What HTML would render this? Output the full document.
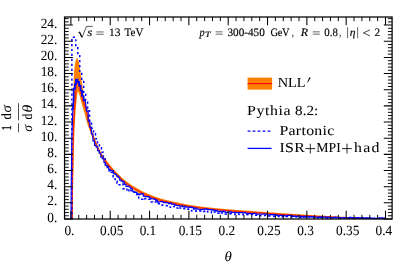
<!DOCTYPE html>
<html><head><meta charset="utf-8"><title>plot</title>
<style>html,body{margin:0;padding:0;background:#fff;}body{width:399px;height:269px;overflow:hidden;font-family:"Liberation Serif",serif;}svg{display:block;opacity:0.999;will-change:transform;stroke-width:0.04px;}text{text-rendering:geometricPrecision;stroke:#000;}</style></head>
<body>
<svg width="399" height="269" viewBox="0 0 399 269" font-family="'Liberation Serif', serif" fill="#000">
<clipPath id="cp"><rect x="64.55" y="17.00" width="327.55" height="202.30"/></clipPath>
<g clip-path="url(#cp)"><g transform="translate(0 0.3)">
<polygon points="71.60,219.50 71.60,219.00 71.60,218.50 71.61,218.00 71.61,217.50 71.61,217.00 71.61,216.50 71.61,216.00 71.62,215.50 71.62,215.00 71.62,214.50 71.62,214.00 71.63,213.50 71.63,213.00 71.63,212.50 71.63,212.00 71.64,211.50 71.64,211.00 71.64,210.50 71.64,210.00 71.65,209.50 71.65,209.00 71.65,208.50 71.65,208.00 71.66,207.50 71.66,207.00 71.66,206.50 71.66,206.00 71.67,205.50 71.67,205.00 71.67,204.50 71.68,204.00 71.68,203.50 71.68,203.00 71.68,202.50 71.69,202.00 71.69,201.50 71.69,201.00 71.70,200.50 71.70,200.00 71.70,199.50 71.71,199.00 71.71,198.50 71.71,198.00 71.72,197.50 71.72,197.00 71.72,196.50 71.73,196.00 71.73,195.50 71.73,195.00 71.74,194.50 71.74,194.00 71.74,193.50 71.75,193.00 71.75,192.50 71.75,192.00 71.76,191.50 71.76,191.00 71.76,190.50 71.77,190.00 71.77,189.50 71.78,189.00 71.78,188.50 71.78,188.00 71.79,187.50 71.79,187.00 71.80,186.50 71.80,186.00 71.80,185.50 71.81,185.00 71.81,184.50 71.82,184.00 71.82,183.50 71.82,183.00 71.83,182.50 71.83,182.00 71.84,181.50 71.84,181.00 71.84,180.50 71.85,180.00 71.85,179.50 71.86,179.00 71.86,178.50 71.87,178.00 71.87,177.50 71.88,177.00 71.88,176.50 71.89,176.00 71.89,175.50 71.90,175.00 71.90,174.50 71.91,174.00 71.91,173.50 71.91,173.00 71.92,172.50 71.92,172.00 71.93,171.50 71.94,171.00 71.94,170.50 71.95,170.00 71.95,169.50 71.96,169.00 71.96,168.50 71.97,168.00 71.97,167.50 71.98,167.00 71.98,166.50 71.99,166.00 71.99,165.50 72.00,165.00 72.01,164.50 72.01,164.00 72.02,163.50 72.02,163.00 72.03,162.50 72.04,162.00 72.04,161.50 72.05,161.00 72.05,160.50 72.06,160.00 72.07,159.50 72.07,159.00 72.08,158.50 72.09,158.00 72.09,157.50 72.10,157.00 72.11,156.50 72.11,156.00 72.12,155.50 72.13,155.00 72.14,154.50 72.14,154.00 72.15,153.50 72.16,153.00 72.17,152.50 72.18,152.00 72.18,151.50 72.19,151.00 72.20,150.50 72.21,150.00 72.22,149.50 72.23,149.00 72.23,148.50 72.24,148.00 72.25,147.50 72.26,147.00 72.27,146.50 72.28,146.00 72.29,145.50 72.30,145.00 72.31,144.50 72.32,144.00 72.33,143.50 72.34,143.00 72.35,142.50 72.36,142.00 72.37,141.50 72.38,141.00 72.39,140.50 72.40,140.00 72.41,139.50 72.42,139.01 72.44,138.51 72.45,138.01 72.46,137.51 72.48,137.01 72.49,136.51 72.51,136.01 72.52,135.51 72.54,135.01 72.56,134.51 72.57,134.01 72.59,133.51 72.61,133.01 72.62,132.51 72.64,132.01 72.66,131.51 72.67,131.01 72.69,130.51 72.71,130.01 72.72,129.51 72.74,129.01 72.75,128.51 72.77,128.01 72.79,127.51 72.80,127.01 72.81,126.51 72.83,126.01 72.84,125.51 72.86,125.01 72.87,124.51 72.89,124.01 72.90,123.51 72.92,123.01 72.93,122.51 72.94,122.01 72.96,121.51 72.97,121.01 72.99,120.51 73.00,120.01 73.02,119.51 73.03,119.01 73.04,118.51 73.06,118.01 73.07,117.51 73.09,117.01 73.10,116.51 73.11,116.02 73.13,115.52 73.14,115.02 73.15,114.52 73.16,114.02 73.18,113.52 73.19,113.02 73.20,112.52 73.21,112.02 73.23,111.52 73.24,111.02 73.25,110.52 73.26,110.02 73.27,109.52 73.28,109.02 73.29,108.52 73.30,108.02 73.31,107.52 73.32,107.02 73.33,106.52 73.34,106.02 73.35,105.52 73.35,105.02 73.36,104.52 73.37,104.02 73.38,103.52 73.39,103.02 73.40,102.52 73.40,102.02 73.41,101.52 73.42,101.02 73.43,100.52 73.43,100.02 73.44,99.52 73.45,99.02 73.45,98.52 73.46,98.02 73.47,97.52 73.47,97.02 73.48,96.52 73.49,96.02 73.49,95.52 73.50,95.02 73.51,94.52 73.51,94.02 73.52,93.52 73.52,93.02 73.53,92.52 73.53,92.02 73.53,91.52 73.54,91.02 73.54,90.52 73.55,90.02 73.55,89.52 73.56,89.02 73.56,88.52 73.57,88.02 73.57,87.52 73.58,87.02 73.58,86.52 73.59,86.02 73.59,85.52 73.60,85.02 73.61,84.52 73.61,84.02 73.62,83.52 73.63,83.02 73.64,82.52 73.65,82.02 73.66,81.52 73.67,81.02 73.68,80.52 73.69,80.02 73.70,79.52 73.71,79.02 73.72,78.52 73.74,78.02 73.75,77.52 73.77,77.02 73.78,76.52 73.80,76.02 73.82,75.52 73.84,75.02 73.87,74.52 73.89,74.02 73.92,73.52 73.96,73.03 73.99,72.53 74.03,72.03 74.07,71.53 74.11,71.03 74.16,70.53 74.20,70.03 74.25,69.53 74.30,69.04 74.35,68.54 74.40,68.04 74.45,67.55 74.50,67.05 74.56,66.54 74.61,66.04 74.67,65.54 74.74,65.03 74.81,64.53 74.88,64.03 74.96,63.53 75.04,63.03 75.13,62.54 75.23,62.06 75.33,61.57 75.45,61.10 75.57,60.63 75.70,60.17 75.88,59.71 76.10,59.27 76.35,58.83 76.61,58.39 76.89,57.96 77.18,57.53 77.20,57.50 77.45,57.94 77.69,58.39 77.93,58.84 78.15,59.29 78.35,59.75 78.51,60.21 78.65,60.68 78.77,61.15 78.88,61.63 78.98,62.12 79.08,62.60 79.17,63.10 79.25,63.59 79.33,64.09 79.41,64.59 79.48,65.09 79.55,65.59 79.62,66.09 79.69,66.59 79.76,67.08 79.84,67.58 79.91,68.08 79.99,68.57 80.06,69.07 80.13,69.56 80.20,70.06 80.27,70.55 80.33,71.05 80.40,71.54 80.46,72.04 80.53,72.53 80.60,73.03 80.66,73.53 80.73,74.02 80.79,74.52 80.86,75.01 80.93,75.51 81.00,76.00 81.07,76.50 81.14,76.99 81.22,77.49 81.29,77.98 81.36,78.48 81.44,78.97 81.51,79.47 81.58,79.96 81.66,80.45 81.74,80.95 81.81,81.44 81.89,81.94 81.97,82.43 82.05,82.92 82.13,83.42 82.22,83.91 82.30,84.40 82.39,84.89 82.47,85.39 82.56,85.88 82.64,86.37 82.72,86.87 82.80,87.36 82.88,87.85 82.95,88.35 83.02,88.84 83.08,89.34 83.15,89.84 83.21,90.34 83.27,90.83 83.32,91.33 83.38,91.83 83.44,92.33 83.49,92.83 83.55,93.32 83.61,93.82 83.67,94.32 83.73,94.82 83.79,95.31 83.86,95.81 83.93,96.30 84.00,96.79 84.08,97.28 84.16,97.77 84.25,98.26 84.34,98.75 84.45,99.23 84.56,99.72 84.69,100.20 84.81,100.68 84.95,101.16 85.09,101.64 85.23,102.12 85.38,102.60 85.54,103.07 85.69,103.55 85.85,104.03 86.01,104.51 86.17,104.98 86.33,105.46 86.50,105.93 86.66,106.41 86.81,106.89 86.97,107.37 87.12,107.84 87.27,108.32 87.42,108.80 87.56,109.28 87.69,109.77 87.82,110.25 87.94,110.73 88.05,111.22 88.16,111.70 88.26,112.19 88.37,112.68 88.47,113.17 88.56,113.66 88.66,114.15 88.75,114.64 88.84,115.13 88.93,115.63 89.02,116.12 89.10,116.61 89.19,117.11 89.28,117.60 89.36,118.09 89.45,118.58 89.54,119.08 89.63,119.57 89.72,120.06 89.81,120.55 89.90,121.05 90.00,121.54 90.10,122.03 90.20,122.52 90.30,123.01 90.41,123.49 90.51,123.98 90.62,124.47 90.73,124.96 90.84,125.45 90.96,125.94 91.07,126.42 91.19,126.91 91.31,127.40 91.43,127.88 91.55,128.37 91.68,128.85 91.81,129.33 91.95,129.81 92.08,130.29 92.23,130.77 92.37,131.24 92.52,131.72 92.68,132.19 92.83,132.67 93.00,133.14 93.16,133.61 93.33,134.09 93.49,134.56 93.67,135.03 93.84,135.50 94.02,135.97 94.20,136.44 94.37,136.90 94.56,137.37 94.74,137.84 94.92,138.30 95.11,138.77 95.29,139.23 95.48,139.70 95.66,140.16 95.85,140.63 96.04,141.09 96.22,141.55 96.41,142.02 96.60,142.48 96.79,142.95 96.98,143.41 97.17,143.87 97.37,144.33 97.56,144.80 97.76,145.26 97.96,145.72 98.16,146.18 98.37,146.63 98.58,147.09 98.79,147.54 99.00,147.99 99.22,148.44 99.44,148.89 99.66,149.34 99.88,149.78 100.12,150.22 100.35,150.66 100.59,151.09 100.83,151.53 101.08,151.96 101.33,152.40 101.58,152.83 101.84,153.26 102.10,153.68 102.37,154.11 102.63,154.54 102.90,154.96 103.18,155.38 103.45,155.80 103.73,156.22 104.01,156.64 104.29,157.05 104.57,157.47 104.86,157.88 105.14,158.29 105.43,158.70 105.72,159.11 106.01,159.51 106.30,159.91 106.59,160.31 106.89,160.71 107.19,161.11 107.50,161.51 107.81,161.90 108.12,162.29 108.43,162.68 108.75,163.07 109.06,163.46 109.38,163.85 109.70,164.23 110.03,164.61 110.35,165.00 110.68,165.38 111.00,165.76 111.33,166.14 111.65,166.52 111.98,166.90 112.31,167.28 112.63,167.65 112.96,168.03 113.29,168.41 113.62,168.78 113.95,169.16 114.28,169.53 114.62,169.91 114.95,170.28 115.29,170.65 115.63,171.02 115.97,171.38 116.31,171.75 116.66,172.11 117.00,172.47 117.35,172.83 117.70,173.19 118.05,173.55 118.40,173.90 118.75,174.26 119.10,174.61 119.46,174.96 119.82,175.32 120.17,175.67 120.53,176.02 120.90,176.37 121.26,176.72 121.62,177.06 121.99,177.40 122.36,177.74 122.73,178.08 123.10,178.41 123.48,178.74 123.86,179.06 124.24,179.38 124.62,179.70 125.01,180.01 125.40,180.31 125.79,180.62 126.19,180.92 126.58,181.22 126.98,181.52 127.38,181.82 127.79,182.11 128.19,182.41 128.60,182.70 129.01,182.99 129.42,183.27 129.84,183.56 130.25,183.84 130.67,184.12 131.09,184.40 131.51,184.68 131.93,184.95 132.35,185.22 132.78,185.49 133.20,185.76 133.63,186.02 134.06,186.29 134.49,186.55 134.92,186.81 135.35,187.06 135.78,187.31 136.21,187.57 136.64,187.81 137.07,188.06 137.51,188.30 137.94,188.55 138.38,188.79 138.81,189.02 139.25,189.26 139.69,189.49 140.14,189.73 140.58,189.96 141.03,190.19 141.47,190.41 141.92,190.64 142.37,190.86 142.82,191.09 143.27,191.30 143.72,191.52 144.18,191.74 144.63,191.95 145.08,192.16 145.54,192.37 146.00,192.58 146.45,192.79 146.91,192.99 147.37,193.19 147.83,193.39 148.29,193.59 148.75,193.78 149.21,193.97 149.67,194.17 150.13,194.35 150.59,194.54 151.06,194.73 151.52,194.91 151.99,195.10 152.45,195.28 152.92,195.46 153.38,195.64 153.85,195.82 154.32,195.99 154.79,196.17 155.26,196.34 155.73,196.51 156.21,196.68 156.68,196.85 157.15,197.02 157.63,197.18 158.10,197.34 158.58,197.50 159.05,197.65 159.53,197.81 160.00,197.96 160.48,198.11 160.96,198.25 161.44,198.39 161.92,198.53 162.40,198.67 162.88,198.80 163.36,198.94 163.84,199.06 164.32,199.19 164.80,199.31 165.29,199.43 165.77,199.55 166.26,199.67 166.75,199.79 167.23,199.90 167.72,200.01 168.21,200.12 168.70,200.23 169.19,200.34 169.67,200.45 170.16,200.56 170.65,200.66 171.14,200.77 171.63,200.87 172.12,200.98 172.61,201.08 173.10,201.19 173.59,201.29 174.08,201.40 174.57,201.51 175.06,201.61 175.55,201.72 176.03,201.83 176.52,201.94 177.01,202.04 177.50,202.15 177.99,202.26 178.48,202.37 178.97,202.47 179.45,202.58 179.94,202.69 180.43,202.79 180.92,202.90 181.41,203.00 181.90,203.11 182.39,203.21 182.88,203.31 183.37,203.41 183.86,203.51 184.35,203.61 184.84,203.70 185.33,203.80 185.82,203.89 186.31,203.99 186.80,204.08 187.30,204.16 187.79,204.25 188.28,204.34 188.77,204.42 189.26,204.50 189.76,204.59 190.25,204.67 190.74,204.75 191.24,204.83 191.73,204.91 192.23,204.99 192.72,205.07 193.21,205.15 193.71,205.22 194.20,205.30 194.70,205.37 195.19,205.44 195.69,205.52 196.18,205.59 196.68,205.66 197.17,205.73 197.67,205.79 198.16,205.86 198.66,205.93 199.16,205.99 199.65,206.06 200.15,206.12 200.64,206.18 201.14,206.24 201.63,206.30 202.13,206.36 202.63,206.42 203.12,206.48 203.62,206.54 204.12,206.60 204.61,206.66 205.11,206.72 205.61,206.77 206.10,206.83 206.60,206.89 207.10,206.94 207.59,207.00 208.09,207.05 208.59,207.11 209.08,207.16 209.58,207.21 210.08,207.27 210.58,207.32 211.07,207.37 211.57,207.42 212.07,207.48 212.57,207.53 213.06,207.58 213.56,207.63 214.06,207.68 214.56,207.73 215.05,207.78 215.55,207.83 216.05,207.87 216.55,207.92 217.05,207.97 217.54,208.02 218.04,208.07 218.54,208.11 219.04,208.16 219.54,208.21 220.03,208.25 220.53,208.30 221.03,208.34 221.53,208.39 222.03,208.43 222.52,208.48 223.02,208.52 223.52,208.57 224.02,208.61 224.52,208.66 225.01,208.70 225.51,208.74 226.01,208.79 226.51,208.83 227.01,208.87 227.50,208.91 228.00,208.96 228.50,209.00 229.00,209.04 229.50,209.08 229.99,209.12 230.49,209.16 230.99,209.20 231.49,209.24 231.99,209.28 232.49,209.32 232.99,209.36 233.48,209.39 233.98,209.43 234.48,209.47 234.98,209.51 235.48,209.55 235.98,209.58 236.48,209.62 236.97,209.66 237.47,209.69 237.97,209.73 238.47,209.77 238.97,209.80 239.47,209.84 239.97,209.88 240.47,209.91 240.96,209.95 241.46,209.98 241.96,210.02 242.46,210.06 242.96,210.09 243.46,210.13 243.96,210.16 244.46,210.20 244.95,210.24 245.45,210.27 245.95,210.31 246.45,210.34 246.95,210.38 247.45,210.41 247.95,210.45 248.45,210.49 248.94,210.52 249.44,210.56 249.94,210.60 250.44,210.63 250.94,210.67 251.44,210.71 251.94,210.74 252.43,210.78 252.93,210.81 253.43,210.85 253.93,210.89 254.43,210.92 254.93,210.96 255.43,211.00 255.93,211.03 256.42,211.07 256.92,211.10 257.42,211.14 257.92,211.18 258.42,211.21 258.92,211.25 259.42,211.29 259.91,211.32 260.41,211.36 260.91,211.39 261.41,211.43 261.91,211.47 262.41,211.50 262.91,211.54 263.41,211.57 263.90,211.61 264.40,211.64 264.90,211.68 265.40,211.72 265.90,211.75 266.40,211.79 266.90,211.82 267.40,211.86 267.89,211.89 268.39,211.93 268.89,211.96 269.39,212.00 269.89,212.03 270.39,212.07 270.89,212.10 271.39,212.14 271.88,212.18 272.38,212.21 272.88,212.24 273.38,212.28 273.88,212.31 274.38,212.35 274.88,212.38 275.38,212.42 275.88,212.45 276.37,212.49 276.87,212.52 277.37,212.56 277.87,212.59 278.37,212.62 278.87,212.66 279.37,212.69 279.87,212.73 280.36,212.76 280.86,212.79 281.36,212.83 281.86,212.86 282.36,212.90 282.86,212.93 283.36,212.96 283.86,213.00 284.36,213.03 284.85,213.06 285.35,213.10 285.85,213.13 286.35,213.16 286.85,213.19 287.35,213.23 287.85,213.26 288.35,213.29 288.85,213.33 289.34,213.36 289.84,213.39 290.34,213.42 290.84,213.45 291.34,213.49 291.84,213.52 292.34,213.55 292.84,213.58 293.34,213.62 293.84,213.65 294.33,213.68 294.83,213.71 295.33,213.74 295.83,213.78 296.33,213.81 296.83,213.84 297.33,213.87 297.83,213.90 298.33,213.93 298.83,213.97 299.32,214.00 299.82,214.03 300.32,214.06 300.82,214.09 301.32,214.12 301.82,214.16 302.32,214.19 302.82,214.22 303.32,214.25 303.82,214.28 304.31,214.31 304.81,214.34 305.31,214.37 305.81,214.40 306.31,214.44 306.81,214.47 307.31,214.50 307.81,214.53 308.31,214.56 308.81,214.59 309.31,214.62 309.80,214.65 310.30,214.68 310.80,214.71 311.30,214.74 311.80,214.77 312.30,214.80 312.80,214.83 313.30,214.86 313.80,214.89 314.30,214.92 314.80,214.95 315.29,214.98 315.79,215.01 316.29,215.04 316.79,215.07 317.29,215.10 317.79,215.13 318.29,215.15 318.79,215.18 319.29,215.21 319.79,215.24 320.29,215.27 320.79,215.30 321.28,215.33 321.78,215.35 322.28,215.38 322.78,215.41 323.28,215.44 323.78,215.47 324.28,215.49 324.78,215.52 325.28,215.55 325.78,215.57 326.28,215.60 326.78,215.63 327.28,215.66 327.77,215.68 328.27,215.71 328.77,215.74 329.27,215.76 329.77,215.79 330.27,215.81 330.77,215.84 331.27,215.87 331.77,215.89 332.27,215.92 332.77,215.94 333.27,215.97 333.77,215.99 334.27,216.02 334.76,216.04 335.26,216.07 335.76,216.09 336.26,216.12 336.76,216.14 337.26,216.17 337.76,216.19 338.26,216.21 338.76,216.24 339.26,216.26 339.76,216.28 340.26,216.31 340.76,216.33 341.26,216.36 341.76,216.38 342.26,216.40 342.76,216.43 343.26,216.45 343.75,216.47 344.25,216.50 344.75,216.52 345.25,216.54 345.75,216.56 346.25,216.59 346.75,216.61 347.25,216.63 347.75,216.65 348.25,216.68 348.75,216.70 349.25,216.72 349.75,216.74 350.25,216.77 350.75,216.79 351.25,216.81 351.75,216.83 352.25,216.86 352.75,216.88 353.25,216.90 353.74,216.92 354.24,216.95 354.74,216.97 355.24,216.99 355.74,217.01 356.24,217.03 356.74,217.06 357.24,217.08 357.74,217.10 358.24,217.12 358.74,217.14 359.24,217.17 359.74,217.19 360.24,217.21 360.74,217.23 361.24,217.25 361.74,217.28 362.24,217.30 362.74,217.32 363.24,217.34 363.74,217.36 364.23,217.39 364.73,217.41 365.23,217.43 365.73,217.45 366.23,217.47 366.73,217.49 367.23,217.52 367.73,217.54 368.23,217.56 368.73,217.58 369.23,217.60 369.73,217.62 370.23,217.65 370.73,217.67 371.23,217.69 371.73,217.71 372.23,217.73 372.73,217.75 373.23,217.77 373.73,217.79 374.23,217.81 374.72,217.84 375.22,217.86 375.72,217.88 376.22,217.90 376.72,217.92 377.22,217.94 377.72,217.96 378.22,217.98 378.72,218.00 379.22,218.02 379.72,218.04 380.22,218.06 380.72,218.09 381.22,218.11 381.72,218.13 382.22,218.15 382.72,218.17 383.22,218.19 383.72,218.21 384.22,218.23 384.72,218.25 385.22,218.27 385.72,218.29 386.00,218.30 386.00,218.80 385.62,218.79 385.12,218.79 384.62,218.78 384.12,218.77 383.62,218.76 383.12,218.75 382.62,218.74 382.12,218.74 381.62,218.73 381.12,218.72 380.62,218.71 380.12,218.70 379.62,218.69 379.12,218.68 378.62,218.67 378.12,218.66 377.62,218.65 377.12,218.64 376.62,218.63 376.12,218.62 375.62,218.61 375.12,218.60 374.62,218.59 374.12,218.58 373.62,218.57 373.12,218.56 372.62,218.55 372.12,218.54 371.62,218.53 371.12,218.52 370.62,218.51 370.12,218.49 369.62,218.48 369.12,218.47 368.62,218.46 368.12,218.45 367.62,218.44 367.12,218.43 366.62,218.41 366.12,218.40 365.62,218.39 365.12,218.38 364.62,218.37 364.12,218.35 363.62,218.34 363.12,218.33 362.62,218.32 362.12,218.31 361.62,218.29 361.12,218.28 360.62,218.27 360.12,218.25 359.62,218.24 359.12,218.23 358.62,218.22 358.12,218.20 357.62,218.19 357.12,218.18 356.63,218.16 356.13,218.15 355.63,218.14 355.13,218.12 354.63,218.11 354.13,218.10 353.63,218.08 353.13,218.07 352.63,218.05 352.13,218.04 351.63,218.02 351.13,218.01 350.63,217.99 350.13,217.98 349.63,217.96 349.13,217.95 348.63,217.93 348.13,217.92 347.63,217.90 347.13,217.89 346.63,217.87 346.13,217.85 345.63,217.84 345.13,217.82 344.63,217.81 344.13,217.79 343.63,217.77 343.13,217.76 342.63,217.74 342.13,217.72 341.63,217.70 341.13,217.69 340.63,217.67 340.13,217.65 339.63,217.64 339.13,217.62 338.63,217.60 338.13,217.58 337.63,217.56 337.13,217.55 336.63,217.53 336.13,217.51 335.64,217.49 335.14,217.47 334.64,217.45 334.14,217.44 333.64,217.42 333.14,217.40 332.64,217.38 332.14,217.36 331.64,217.34 331.14,217.32 330.64,217.30 330.14,217.28 329.64,217.26 329.14,217.24 328.64,217.23 328.14,217.21 327.64,217.19 327.14,217.17 326.64,217.15 326.14,217.13 325.64,217.10 325.14,217.08 324.64,217.06 324.14,217.04 323.65,217.02 323.15,217.00 322.65,216.98 322.15,216.96 321.65,216.93 321.15,216.91 320.65,216.89 320.15,216.87 319.65,216.84 319.15,216.82 318.65,216.80 318.15,216.78 317.65,216.75 317.15,216.73 316.65,216.71 316.15,216.68 315.65,216.66 315.15,216.63 314.65,216.61 314.16,216.59 313.66,216.56 313.16,216.54 312.66,216.51 312.16,216.49 311.66,216.46 311.16,216.44 310.66,216.41 310.16,216.39 309.66,216.36 309.16,216.34 308.66,216.31 308.16,216.29 307.66,216.26 307.16,216.24 306.66,216.21 306.16,216.19 305.67,216.16 305.17,216.13 304.67,216.11 304.17,216.08 303.67,216.05 303.17,216.03 302.67,216.00 302.17,215.97 301.67,215.95 301.17,215.92 300.67,215.89 300.17,215.87 299.67,215.84 299.17,215.81 298.68,215.79 298.18,215.76 297.68,215.73 297.18,215.71 296.68,215.68 296.18,215.65 295.68,215.62 295.18,215.60 294.68,215.57 294.18,215.54 293.68,215.51 293.18,215.49 292.68,215.46 292.18,215.43 291.69,215.40 291.19,215.38 290.69,215.35 290.19,215.32 289.69,215.29 289.19,215.27 288.69,215.24 288.19,215.21 287.69,215.18 287.19,215.16 286.69,215.13 286.19,215.10 285.69,215.07 285.20,215.04 284.70,215.01 284.20,214.99 283.70,214.96 283.20,214.93 282.70,214.90 282.20,214.87 281.70,214.84 281.20,214.81 280.70,214.79 280.20,214.76 279.70,214.73 279.21,214.70 278.71,214.67 278.21,214.64 277.71,214.61 277.21,214.58 276.71,214.55 276.21,214.52 275.71,214.49 275.21,214.46 274.71,214.43 274.21,214.40 273.72,214.37 273.22,214.34 272.72,214.31 272.22,214.28 271.72,214.25 271.22,214.22 270.72,214.19 270.22,214.16 269.72,214.13 269.22,214.09 268.72,214.06 268.23,214.03 267.73,214.00 267.23,213.97 266.73,213.94 266.23,213.91 265.73,213.87 265.23,213.84 264.73,213.81 264.23,213.78 263.73,213.75 263.24,213.72 262.74,213.68 262.24,213.65 261.74,213.62 261.24,213.59 260.74,213.55 260.24,213.52 259.74,213.49 259.24,213.46 258.74,213.42 258.25,213.39 257.75,213.36 257.25,213.33 256.75,213.29 256.25,213.26 255.75,213.23 255.25,213.19 254.75,213.16 254.25,213.13 253.76,213.09 253.26,213.06 252.76,213.03 252.26,212.99 251.76,212.96 251.26,212.92 250.76,212.89 250.26,212.86 249.76,212.82 249.27,212.79 248.77,212.75 248.27,212.72 247.77,212.68 247.27,212.65 246.77,212.61 246.27,212.58 245.77,212.55 245.28,212.51 244.78,212.48 244.28,212.44 243.78,212.40 243.28,212.37 242.78,212.33 242.28,212.30 241.78,212.26 241.29,212.23 240.79,212.19 240.29,212.15 239.79,212.12 239.29,212.08 238.79,212.04 238.29,212.01 237.79,211.97 237.30,211.93 236.80,211.90 236.30,211.86 235.80,211.82 235.30,211.78 234.80,211.75 234.30,211.71 233.81,211.67 233.31,211.63 232.81,211.59 232.31,211.55 231.81,211.52 231.31,211.48 230.81,211.44 230.32,211.40 229.82,211.36 229.32,211.32 228.82,211.28 228.32,211.24 227.82,211.20 227.33,211.16 226.83,211.12 226.33,211.08 225.83,211.04 225.33,211.00 224.83,210.95 224.34,210.91 223.84,210.87 223.34,210.83 222.84,210.79 222.34,210.74 221.85,210.70 221.35,210.66 220.85,210.62 220.35,210.57 219.85,210.53 219.35,210.49 218.86,210.45 218.36,210.40 217.86,210.36 217.36,210.32 216.86,210.27 216.36,210.23 215.87,210.19 215.37,210.14 214.87,210.10 214.37,210.06 213.87,210.01 213.38,209.97 212.88,209.92 212.38,209.88 211.88,209.83 211.38,209.78 210.88,209.74 210.39,209.69 209.89,209.65 209.39,209.60 208.89,209.55 208.40,209.50 207.90,209.46 207.40,209.41 206.90,209.36 206.40,209.31 205.91,209.26 205.41,209.21 204.91,209.16 204.41,209.11 203.92,209.06 203.42,209.00 202.92,208.95 202.43,208.90 201.93,208.84 201.43,208.79 200.94,208.74 200.44,208.68 199.94,208.62 199.45,208.57 198.95,208.51 198.45,208.45 197.96,208.39 197.46,208.34 196.96,208.28 196.47,208.21 195.97,208.15 195.48,208.09 194.98,208.02 194.49,207.95 193.99,207.89 193.49,207.82 193.00,207.75 192.50,207.68 192.01,207.61 191.51,207.53 191.02,207.46 190.52,207.39 190.03,207.31 189.54,207.24 189.04,207.16 188.55,207.08 188.05,207.01 187.56,206.93 187.06,206.85 186.57,206.77 186.08,206.69 185.58,206.61 185.09,206.53 184.60,206.45 184.10,206.37 183.61,206.29 183.12,206.20 182.63,206.12 182.13,206.03 181.64,205.95 181.15,205.86 180.66,205.77 180.16,205.68 179.67,205.59 179.18,205.50 178.69,205.41 178.20,205.32 177.71,205.22 177.21,205.13 176.72,205.04 176.23,204.94 175.74,204.85 175.25,204.75 174.76,204.65 174.27,204.55 173.78,204.46 173.29,204.36 172.80,204.26 172.31,204.16 171.82,204.06 171.33,203.96 170.84,203.86 170.35,203.76 169.85,203.66 169.36,203.56 168.87,203.46 168.38,203.36 167.89,203.26 167.40,203.16 166.91,203.05 166.42,202.94 165.93,202.84 165.44,202.73 164.96,202.62 164.47,202.50 163.98,202.39 163.50,202.27 163.01,202.16 162.53,202.03 162.04,201.91 161.56,201.79 161.08,201.66 160.60,201.53 160.12,201.39 159.64,201.26 159.16,201.12 158.69,200.97 158.21,200.82 157.73,200.67 157.26,200.52 156.78,200.36 156.31,200.20 155.83,200.04 155.36,199.87 154.89,199.70 154.42,199.53 153.94,199.36 153.47,199.19 153.00,199.01 152.54,198.83 152.07,198.65 151.60,198.47 151.13,198.28 150.67,198.10 150.20,197.91 149.74,197.72 149.28,197.53 148.82,197.34 148.36,197.15 147.90,196.96 147.44,196.76 146.98,196.57 146.52,196.37 146.07,196.17 145.61,195.96 145.15,195.76 144.70,195.55 144.24,195.34 143.79,195.12 143.34,194.91 142.88,194.69 142.43,194.47 141.98,194.25 141.53,194.02 141.08,193.80 140.64,193.57 140.19,193.34 139.75,193.11 139.30,192.87 138.86,192.64 138.42,192.40 137.98,192.16 137.54,191.92 137.11,191.67 136.68,191.43 136.24,191.18 135.81,190.93 135.38,190.68 134.96,190.43 134.53,190.17 134.11,189.91 133.68,189.65 133.26,189.39 132.83,189.12 132.41,188.85 131.99,188.58 131.57,188.31 131.16,188.03 130.74,187.75 130.32,187.47 129.91,187.18 129.49,186.90 129.08,186.61 128.67,186.32 128.26,186.03 127.86,185.73 127.45,185.44 127.05,185.14 126.64,184.84 126.24,184.54 125.84,184.24 125.44,183.93 125.05,183.63 124.65,183.32 124.26,183.01 123.87,182.70 123.48,182.39 123.10,182.08 122.71,181.76 122.33,181.44 121.95,181.12 121.57,180.80 121.19,180.47 120.82,180.14 120.45,179.80 120.08,179.46 119.71,179.12 119.35,178.78 118.98,178.43 118.62,178.09 118.26,177.74 117.90,177.39 117.54,177.04 117.18,176.69 116.83,176.33 116.48,175.98 116.12,175.62 115.77,175.27 115.42,174.91 115.07,174.56 114.73,174.20 114.38,173.83 114.04,173.47 113.70,173.10 113.35,172.74 113.02,172.37 112.68,172.00 112.34,171.63 112.01,171.25 111.68,170.88 111.35,170.50 111.03,170.12 110.70,169.74 110.38,169.36 110.06,168.98 109.74,168.59 109.43,168.21 109.11,167.82 108.79,167.43 108.48,167.04 108.17,166.65 107.86,166.25 107.55,165.86 107.24,165.46 106.93,165.07 106.63,164.67 106.33,164.27 106.03,163.86 105.73,163.46 105.44,163.06 105.15,162.65 104.86,162.24 104.57,161.83 104.29,161.42 104.01,161.01 103.73,160.60 103.45,160.19 103.18,159.77 102.90,159.35 102.63,158.93 102.36,158.51 102.09,158.09 101.82,157.67 101.55,157.24 101.29,156.81 101.03,156.39 100.77,155.96 100.51,155.53 100.25,155.10 100.00,154.66 99.75,154.23 99.50,153.79 99.26,153.36 99.02,152.92 98.78,152.48 98.54,152.04 98.31,151.60 98.08,151.16 97.85,150.71 97.63,150.27 97.41,149.82 97.19,149.37 96.98,148.92 96.77,148.47 96.56,148.01 96.35,147.56 96.15,147.10 95.94,146.64 95.74,146.18 95.54,145.72 95.35,145.26 95.15,144.80 94.96,144.34 94.76,143.88 94.57,143.41 94.38,142.95 94.20,142.49 94.01,142.02 93.83,141.56 93.64,141.10 93.46,140.63 93.28,140.16 93.11,139.70 92.93,139.23 92.76,138.76 92.59,138.29 92.42,137.82 92.25,137.35 92.08,136.88 91.91,136.41 91.74,135.94 91.58,135.46 91.41,134.99 91.25,134.52 91.08,134.05 90.91,133.58 90.75,133.10 90.58,132.63 90.41,132.16 90.25,131.69 90.08,131.22 89.91,130.75 89.74,130.28 89.56,129.81 89.39,129.34 89.22,128.87 89.04,128.40 88.87,127.93 88.69,127.46 88.52,126.99 88.35,126.52 88.19,126.05 88.02,125.58 87.86,125.11 87.70,124.63 87.55,124.16 87.40,123.68 87.26,123.20 87.11,122.72 86.97,122.24 86.84,121.76 86.70,121.28 86.57,120.80 86.44,120.32 86.31,119.84 86.18,119.35 86.05,118.87 85.93,118.38 85.80,117.90 85.67,117.42 85.55,116.93 85.42,116.45 85.30,115.96 85.17,115.48 85.04,114.99 84.91,114.51 84.78,114.03 84.65,113.55 84.52,113.06 84.38,112.58 84.25,112.10 84.11,111.62 83.98,111.14 83.84,110.66 83.70,110.18 83.57,109.70 83.43,109.21 83.29,108.73 83.15,108.25 83.02,107.77 82.88,107.29 82.74,106.81 82.60,106.33 82.46,105.85 82.31,105.37 82.17,104.90 82.02,104.42 81.87,103.94 81.72,103.46 81.57,102.98 81.43,102.51 81.29,102.03 81.15,101.55 81.02,101.06 80.89,100.58 80.77,100.09 80.66,99.61 80.55,99.12 80.45,98.63 80.34,98.14 80.23,97.65 80.11,97.16 79.99,96.68 79.86,96.20 79.71,95.72 79.55,95.25 79.37,94.78 79.19,94.32 79.00,93.85 78.83,93.38 78.67,92.91 78.52,92.43 78.38,91.95 78.25,91.47 78.12,90.99 78.00,90.50 77.95,90.70 77.84,91.19 77.74,91.67 77.63,92.16 77.53,92.65 77.44,93.15 77.36,93.64 77.28,94.13 77.21,94.62 77.14,95.12 77.08,95.62 77.02,96.11 76.96,96.61 76.90,97.11 76.85,97.60 76.80,98.10 76.74,98.60 76.69,99.10 76.64,99.59 76.59,100.09 76.54,100.59 76.49,101.09 76.44,101.58 76.39,102.08 76.34,102.58 76.29,103.08 76.25,103.57 76.20,104.07 76.15,104.57 76.11,105.07 76.06,105.57 76.02,106.06 75.97,106.56 75.93,107.06 75.89,107.56 75.85,108.06 75.81,108.56 75.77,109.05 75.73,109.55 75.70,110.05 75.66,110.55 75.62,111.05 75.59,111.55 75.56,112.05 75.52,112.54 75.49,113.04 75.45,113.54 75.42,114.04 75.39,114.54 75.36,115.04 75.32,115.54 75.29,116.04 75.26,116.54 75.23,117.04 75.20,117.53 75.17,118.03 75.14,118.53 75.11,119.03 75.08,119.53 75.06,120.03 75.03,120.53 75.00,121.03 74.97,121.53 74.95,122.03 74.92,122.53 74.89,123.03 74.87,123.53 74.84,124.03 74.82,124.52 74.79,125.02 74.77,125.52 74.75,126.02 74.72,126.52 74.70,127.02 74.68,127.52 74.65,128.02 74.63,128.52 74.61,129.02 74.59,129.52 74.57,130.02 74.54,130.52 74.52,131.02 74.50,131.52 74.48,132.02 74.46,132.52 74.44,133.02 74.42,133.52 74.40,134.02 74.39,134.52 74.37,135.02 74.35,135.51 74.33,136.01 74.31,136.51 74.30,137.01 74.28,137.51 74.26,138.01 74.25,138.51 74.23,139.01 74.21,139.51 74.20,140.01 74.18,140.51 74.17,141.01 74.15,141.51 74.14,142.01 74.13,142.51 74.11,143.01 74.10,143.51 74.08,144.01 74.07,144.51 74.06,145.01 74.04,145.51 74.03,146.01 74.02,146.51 74.00,147.01 73.99,147.51 73.98,148.01 73.97,148.51 73.95,149.01 73.94,149.51 73.93,150.01 73.92,150.51 73.90,151.01 73.89,151.51 73.88,152.01 73.87,152.51 73.86,153.01 73.85,153.51 73.83,154.01 73.82,154.51 73.81,155.01 73.80,155.51 73.79,156.01 73.78,156.51 73.77,157.01 73.76,157.51 73.75,158.01 73.73,158.51 73.72,159.01 73.71,159.51 73.70,160.01 73.69,160.51 73.68,161.01 73.67,161.51 73.66,162.01 73.65,162.51 73.64,163.01 73.63,163.51 73.62,164.01 73.61,164.51 73.60,165.01 73.59,165.51 73.58,166.00 73.57,166.50 73.56,167.00 73.55,167.50 73.54,168.00 73.53,168.50 73.51,169.00 73.50,169.50 73.49,170.00 73.48,170.50 73.47,171.00 73.46,171.50 73.45,172.00 73.44,172.50 73.42,173.00 73.41,173.50 73.40,174.00 73.39,174.50 73.38,175.00 73.37,175.50 73.35,176.00 73.34,176.50 73.33,177.00 73.32,177.50 73.31,178.00 73.30,178.50 73.29,179.00 73.28,179.50 73.26,180.00 73.25,180.50 73.24,181.00 73.23,181.50 73.22,182.00 73.21,182.50 73.20,183.00 73.19,183.50 73.18,184.00 73.17,184.50 73.16,185.00 73.15,185.50 73.14,186.00 73.13,186.50 73.13,187.00 73.12,187.50 73.11,188.00 73.10,188.50 73.09,189.00 73.09,189.50 73.08,190.00 73.07,190.50 73.06,191.00 73.06,191.50 73.05,192.00 73.05,192.50 73.04,193.00 73.03,193.50 73.03,194.00 73.03,194.50 73.02,195.00 73.02,195.50 73.01,196.00 73.01,196.50 73.01,197.00 73.01,197.50 73.00,198.00 73.00,198.50 73.00,199.00 73.00,199.50 73.00,200.00 73.00,200.50 73.00,201.00 73.00,201.50 73.00,202.00 73.00,202.50 73.00,203.00 73.00,203.50 73.00,204.00 73.00,204.50 73.00,205.00 73.00,205.50 73.00,206.00 73.00,206.50 73.00,207.00 73.00,207.50 73.00,208.00 73.00,208.50 73.00,209.00 73.00,209.50 73.00,210.00 73.00,210.50 73.00,211.00 73.00,211.50 73.00,212.00 73.00,212.50 73.00,213.00 73.00,213.50 73.00,214.00 73.00,214.50 73.00,215.00 73.00,215.50 73.00,216.00 73.00,216.50 73.00,217.00 73.00,217.50 73.00,218.00 73.00,218.50 73.00,219.00 73.00,219.50" fill="#ff8000"/>
<polyline points="72.20,219.50 72.20,219.00 72.20,218.50 72.20,218.00 72.21,217.50 72.21,217.00 72.21,216.50 72.21,216.00 72.21,215.50 72.22,215.00 72.22,214.50 72.22,214.00 72.22,213.50 72.22,213.00 72.23,212.50 72.23,212.00 72.23,211.50 72.23,211.00 72.24,210.50 72.24,210.00 72.24,209.50 72.24,209.00 72.25,208.50 72.25,208.00 72.25,207.50 72.26,207.00 72.26,206.50 72.26,206.00 72.26,205.50 72.27,205.00 72.27,204.50 72.27,204.00 72.28,203.50 72.28,203.00 72.28,202.50 72.29,202.00 72.29,201.50 72.29,201.00 72.30,200.50 72.30,200.00 72.30,199.50 72.31,199.00 72.31,198.50 72.31,198.00 72.32,197.50 72.32,197.00 72.33,196.50 72.33,196.00 72.33,195.50 72.34,195.00 72.34,194.50 72.35,194.00 72.35,193.50 72.36,193.00 72.36,192.50 72.36,192.00 72.37,191.50 72.37,191.00 72.38,190.50 72.38,190.00 72.39,189.50 72.39,189.00 72.40,188.50 72.40,188.00 72.41,187.50 72.41,187.00 72.42,186.50 72.43,186.00 72.43,185.50 72.44,185.00 72.44,184.50 72.45,184.00 72.45,183.50 72.46,183.00 72.47,182.50 72.47,182.00 72.48,181.50 72.48,181.00 72.49,180.50 72.50,180.00 72.50,179.50 72.51,179.00 72.51,178.50 72.52,178.00 72.53,177.50 72.53,177.00 72.54,176.50 72.55,176.00 72.55,175.50 72.56,175.00 72.57,174.50 72.57,174.00 72.58,173.50 72.59,173.00 72.59,172.50 72.60,172.00 72.61,171.50 72.61,171.00 72.62,170.50 72.63,170.00 72.63,169.50 72.64,169.00 72.65,168.50 72.66,168.00 72.66,167.50 72.67,167.00 72.68,166.50 72.69,166.00 72.69,165.50 72.70,165.00 72.71,164.50 72.71,164.00 72.72,163.50 72.73,163.00 72.74,162.50 72.75,162.00 72.75,161.50 72.76,161.00 72.77,160.50 72.78,160.00 72.79,159.50 72.80,159.00 72.81,158.50 72.81,158.00 72.82,157.50 72.83,157.00 72.84,156.50 72.85,156.00 72.86,155.50 72.87,155.00 72.88,154.50 72.89,154.00 72.90,153.50 72.91,153.00 72.92,152.50 72.93,152.00 72.94,151.50 72.95,151.00 72.96,150.50 72.97,150.00 72.98,149.50 72.99,149.01 73.00,148.51 73.01,148.01 73.02,147.51 73.04,147.01 73.05,146.51 73.06,146.01 73.07,145.51 73.08,145.01 73.09,144.51 73.10,144.01 73.12,143.51 73.13,143.01 73.14,142.51 73.15,142.01 73.16,141.51 73.18,141.01 73.19,140.51 73.20,140.01 73.21,139.51 73.22,139.01 73.24,138.51 73.25,138.01 73.26,137.51 73.28,137.01 73.29,136.51 73.30,136.01 73.32,135.51 73.33,135.01 73.35,134.51 73.36,134.01 73.38,133.51 73.39,133.01 73.41,132.51 73.42,132.01 73.44,131.51 73.46,131.01 73.47,130.51 73.49,130.01 73.51,129.51 73.53,129.01 73.54,128.51 73.56,128.01 73.58,127.51 73.60,127.01 73.62,126.51 73.64,126.01 73.66,125.52 73.68,125.02 73.70,124.52 73.72,124.02 73.75,123.52 73.77,123.02 73.79,122.52 73.82,122.02 73.84,121.52 73.86,121.02 73.89,120.52 73.91,120.02 73.94,119.52 73.97,119.02 73.99,118.52 74.02,118.02 74.05,117.52 74.07,117.02 74.10,116.53 74.13,116.03 74.16,115.53 74.19,115.03 74.22,114.53 74.25,114.03 74.28,113.53 74.31,113.03 74.34,112.53 74.37,112.03 74.40,111.53 74.43,111.04 74.47,110.54 74.50,110.04 74.53,109.54 74.57,109.04 74.60,108.54 74.64,108.04 74.68,107.54 74.73,107.05 74.77,106.55 74.81,106.05 74.86,105.55 74.90,105.05 74.94,104.56 74.99,104.06 75.03,103.56 75.07,103.06 75.11,102.56 75.15,102.06 75.19,101.57 75.23,101.07 75.26,100.57 75.30,100.07 75.33,99.57 75.35,99.07 75.38,98.57 75.41,98.07 75.43,97.57 75.45,97.07 75.48,96.57 75.50,96.07 75.52,95.57 75.54,95.08 75.57,94.58 75.59,94.08 75.61,93.58 75.63,93.08 75.66,92.58 75.68,92.08 75.71,91.58 75.74,91.08 75.76,90.58 75.79,90.08 75.83,89.58 75.86,89.08 75.89,88.58 75.93,88.09 75.97,87.59 76.00,87.09 76.05,86.59 76.09,86.09 76.13,85.59 76.18,85.09 76.23,84.60 76.28,84.10 76.33,83.60 76.39,83.11 76.45,82.61 76.52,82.12 76.60,81.62 76.69,81.13 76.78,80.64 76.87,80.15 76.97,79.66 77.00,79.50 77.16,79.97 77.31,80.45 77.47,80.93 77.62,81.40 77.76,81.88 77.91,82.36 78.05,82.84 78.18,83.32 78.32,83.80 78.45,84.28 78.59,84.76 78.73,85.25 78.87,85.73 79.01,86.20 79.15,86.68 79.30,87.16 79.44,87.64 79.59,88.12 79.73,88.60 79.87,89.08 80.02,89.56 80.16,90.04 80.30,90.52 80.44,91.00 80.58,91.48 80.72,91.96 80.86,92.44 81.00,92.92 81.13,93.40 81.27,93.88 81.40,94.36 81.53,94.85 81.65,95.33 81.77,95.81 81.89,96.30 82.01,96.79 82.14,97.27 82.26,97.75 82.39,98.24 82.52,98.72 82.66,99.20 82.80,99.68 82.94,100.16 83.09,100.64 83.24,101.11 83.39,101.59 83.54,102.07 83.70,102.54 83.85,103.02 84.01,103.49 84.16,103.97 84.32,104.44 84.47,104.92 84.63,105.39 84.79,105.87 84.96,106.34 85.12,106.81 85.29,107.29 85.46,107.76 85.63,108.23 85.79,108.70 85.95,109.18 86.11,109.65 86.25,110.13 86.39,110.61 86.52,111.09 86.65,111.57 86.77,112.05 86.88,112.54 86.99,113.02 87.10,113.51 87.20,114.00 87.30,114.49 87.40,114.98 87.50,115.47 87.59,115.96 87.69,116.45 87.78,116.95 87.87,117.44 87.96,117.93 88.06,118.42 88.15,118.92 88.24,119.41 88.34,119.90 88.44,120.39 88.54,120.88 88.64,121.37 88.74,121.86 88.85,122.35 88.96,122.84 89.08,123.32 89.19,123.81 89.31,124.30 89.43,124.78 89.55,125.27 89.68,125.75 89.80,126.24 89.93,126.72 90.06,127.20 90.19,127.69 90.32,128.17 90.46,128.65 90.59,129.13 90.73,129.61 90.88,130.09 91.02,130.57 91.17,131.04 91.32,131.52 91.47,132.00 91.63,132.47 91.79,132.94 91.95,133.42 92.11,133.89 92.28,134.36 92.44,134.83 92.61,135.31 92.78,135.78 92.96,136.25 93.13,136.71 93.31,137.18 93.49,137.65 93.67,138.12 93.85,138.59 94.03,139.05 94.21,139.52 94.39,139.98 94.58,140.45 94.76,140.91 94.95,141.38 95.14,141.84 95.32,142.30 95.51,142.77 95.70,143.23 95.89,143.69 96.08,144.16 96.28,144.62 96.47,145.08 96.67,145.54 96.87,146.00 97.07,146.46 97.28,146.92 97.48,147.37 97.69,147.83 97.91,148.28 98.12,148.73 98.34,149.18 98.56,149.63 98.78,150.07 99.01,150.52 99.24,150.96 99.47,151.39 99.71,151.83 99.95,152.27 100.20,152.70 100.45,153.14 100.70,153.57 100.96,154.00 101.22,154.43 101.48,154.86 101.74,155.28 102.01,155.71 102.28,156.13 102.55,156.56 102.82,156.98 103.10,157.40 103.37,157.81 103.65,158.23 103.93,158.65 104.21,159.06 104.50,159.47 104.78,159.88 105.06,160.29 105.35,160.70 105.64,161.10 105.93,161.51 106.23,161.91 106.52,162.31 106.82,162.71 107.13,163.11 107.43,163.51 107.74,163.90 108.05,164.30 108.36,164.69 108.67,165.08 108.99,165.47 109.30,165.86 109.62,166.25 109.94,166.64 110.26,167.02 110.58,167.41 110.90,167.79 111.22,168.17 111.54,168.55 111.87,168.93 112.20,169.31 112.52,169.69 112.85,170.06 113.19,170.44 113.52,170.81 113.86,171.18 114.19,171.55 114.53,171.92 114.87,172.29 115.21,172.65 115.56,173.02 115.90,173.38 116.25,173.74 116.60,174.09 116.95,174.45 117.30,174.80 117.66,175.16 118.01,175.51 118.36,175.87 118.72,176.22 119.08,176.57 119.44,176.92 119.80,177.27 120.16,177.61 120.53,177.96 120.90,178.30 121.26,178.64 121.63,178.98 122.01,179.31 122.38,179.64 122.76,179.97 123.14,180.29 123.52,180.61 123.91,180.92 124.29,181.23 124.68,181.54 125.07,181.85 125.47,182.16 125.86,182.46 126.26,182.77 126.66,183.07 127.06,183.37 127.46,183.67 127.87,183.96 128.27,184.26 128.68,184.55 129.09,184.84 129.50,185.13 129.91,185.42 130.33,185.70 130.74,185.99 131.16,186.27 131.58,186.55 132.00,186.82 132.42,187.10 132.84,187.37 133.26,187.64 133.69,187.90 134.11,188.17 134.54,188.43 134.96,188.69 135.39,188.95 135.82,189.20 136.25,189.45 136.68,189.70 137.11,189.95 137.54,190.19 137.97,190.44 138.41,190.68 138.85,190.92 139.29,191.16 139.73,191.40 140.17,191.63 140.61,191.87 141.06,192.10 141.50,192.33 141.95,192.56 142.40,192.78 142.85,193.01 143.30,193.23 143.75,193.45 144.20,193.67 144.66,193.88 145.11,194.09 145.57,194.30 146.02,194.51 146.48,194.72 146.94,194.92 147.40,195.12 147.85,195.32 148.31,195.51 148.77,195.71 149.23,195.90 149.69,196.08 150.15,196.27 150.62,196.46 151.08,196.64 151.55,196.82 152.01,197.01 152.48,197.19 152.95,197.36 153.42,197.54 153.89,197.71 154.36,197.89 154.83,198.06 155.30,198.23 155.78,198.39 156.25,198.56 156.73,198.72 157.20,198.88 157.68,199.04 158.15,199.19 158.63,199.34 159.11,199.49 159.58,199.64 160.06,199.78 160.54,199.93 161.02,200.06 161.50,200.20 161.98,200.33 162.46,200.46 162.94,200.59 163.42,200.72 163.91,200.84 164.39,200.96 164.88,201.08 165.36,201.20 165.85,201.32 166.34,201.43 166.82,201.55 167.31,201.66 167.80,201.77 168.29,201.88 168.78,201.99 169.27,202.09 169.76,202.20 170.25,202.31 170.74,202.41 171.23,202.52 171.72,202.62 172.21,202.72 172.70,202.83 173.19,202.93 173.67,203.03 174.16,203.13 174.65,203.24 175.14,203.34 175.63,203.44 176.12,203.54 176.61,203.64 177.10,203.74 177.59,203.84 178.08,203.94 178.57,204.04 179.06,204.13 179.55,204.23 180.05,204.32 180.54,204.42 181.03,204.51 181.52,204.61 182.01,204.70 182.50,204.79 182.99,204.88 183.49,204.97 183.98,205.06 184.47,205.15 184.96,205.23 185.46,205.32 185.95,205.41 186.44,205.49 186.93,205.57 187.43,205.66 187.92,205.74 188.41,205.82 188.91,205.90 189.40,205.99 189.89,206.07 190.39,206.15 190.88,206.23 191.37,206.31 191.87,206.38 192.36,206.46 192.86,206.54 193.35,206.61 193.85,206.69 194.34,206.76 194.84,206.84 195.33,206.91 195.83,206.98 196.32,207.05 196.82,207.12 197.31,207.18 197.81,207.25 198.30,207.31 198.80,207.37 199.29,207.44 199.79,207.50 200.29,207.56 200.78,207.62 201.28,207.67 201.77,207.73 202.27,207.79 202.77,207.85 203.26,207.90 203.76,207.96 204.26,208.01 204.75,208.07 205.25,208.12 205.75,208.18 206.24,208.23 206.74,208.28 207.24,208.34 207.74,208.39 208.23,208.44 208.73,208.49 209.23,208.54 209.73,208.59 210.22,208.64 210.72,208.69 211.22,208.74 211.72,208.79 212.22,208.84 212.71,208.88 213.21,208.93 213.71,208.98 214.21,209.02 214.71,209.07 215.20,209.12 215.70,209.16 216.20,209.21 216.70,209.26 217.20,209.30 217.69,209.35 218.19,209.39 218.69,209.43 219.19,209.48 219.69,209.52 220.19,209.57 220.68,209.61 221.18,209.66 221.68,209.70 222.18,209.74 222.68,209.79 223.17,209.83 223.67,209.87 224.17,209.91 224.67,209.96 225.17,210.00 225.66,210.04 226.16,210.08 226.66,210.13 227.16,210.17 227.66,210.21 228.16,210.25 228.65,210.29 229.15,210.33 229.65,210.37 230.15,210.41 230.65,210.45 231.15,210.49 231.64,210.53 232.14,210.56 232.64,210.60 233.14,210.64 233.64,210.68 234.14,210.72 234.64,210.76 235.13,210.79 235.63,210.83 236.13,210.87 236.63,210.91 237.13,210.94 237.63,210.98 238.13,211.02 238.63,211.05 239.12,211.09 239.62,211.13 240.12,211.16 240.62,211.20 241.12,211.23 241.62,211.27 242.12,211.31 242.62,211.34 243.11,211.38 243.61,211.41 244.11,211.45 244.61,211.49 245.11,211.52 245.61,211.56 246.11,211.59 246.61,211.63 247.10,211.66 247.60,211.70 248.10,211.74 248.60,211.77 249.10,211.81 249.60,211.84 250.10,211.88 250.59,211.91 251.09,211.95 251.59,211.99 252.09,212.02 252.59,212.06 253.09,212.09 253.59,212.13 254.09,212.16 254.58,212.20 255.08,212.23 255.58,212.27 256.08,212.31 256.58,212.34 257.08,212.38 257.58,212.41 258.08,212.45 258.57,212.48 259.07,212.52 259.57,212.55 260.07,212.59 260.57,212.62 261.07,212.66 261.57,212.69 262.07,212.73 262.57,212.76 263.06,212.80 263.56,212.83 264.06,212.87 264.56,212.90 265.06,212.94 265.56,212.97 266.06,213.00 266.56,213.04 267.05,213.07 267.55,213.11 268.05,213.14 268.55,213.18 269.05,213.21 269.55,213.24 270.05,213.28 270.55,213.31 271.05,213.34 271.54,213.38 272.04,213.41 272.54,213.45 273.04,213.48 273.54,213.51 274.04,213.55 274.54,213.58 275.04,213.61 275.54,213.64 276.03,213.68 276.53,213.71 277.03,213.74 277.53,213.78 278.03,213.81 278.53,213.84 279.03,213.87 279.53,213.91 280.03,213.94 280.52,213.97 281.02,214.00 281.52,214.03 282.02,214.07 282.52,214.10 283.02,214.13 283.52,214.16 284.02,214.19 284.52,214.22 285.02,214.25 285.51,214.29 286.01,214.32 286.51,214.35 287.01,214.38 287.51,214.41 288.01,214.44 288.51,214.47 289.01,214.50 289.51,214.53 290.01,214.56 290.51,214.59 291.00,214.62 291.50,214.65 292.00,214.68 292.50,214.71 293.00,214.74 293.50,214.77 294.00,214.80 294.50,214.83 295.00,214.86 295.50,214.89 296.00,214.92 296.49,214.95 296.99,214.98 297.49,215.01 297.99,215.04 298.49,215.07 298.99,215.10 299.49,215.13 299.99,215.16 300.49,215.19 300.99,215.21 301.49,215.24 301.99,215.27 302.48,215.30 302.98,215.33 303.48,215.36 303.98,215.39 304.48,215.42 304.98,215.45 305.48,215.47 305.98,215.50 306.48,215.53 306.98,215.56 307.48,215.59 307.98,215.62 308.47,215.64 308.97,215.67 309.47,215.70 309.97,215.73 310.47,215.76 310.97,215.78 311.47,215.81 311.97,215.84 312.47,215.86 312.97,215.89 313.47,215.92 313.97,215.95 314.47,215.97 314.97,216.00 315.46,216.03 315.96,216.05 316.46,216.08 316.96,216.11 317.46,216.13 317.96,216.16 318.46,216.18 318.96,216.21 319.46,216.23 319.96,216.26 320.46,216.29 320.96,216.31 321.46,216.34 321.96,216.36 322.46,216.39 322.95,216.41 323.45,216.44 323.95,216.46 324.45,216.48 324.95,216.51 325.45,216.53 325.95,216.56 326.45,216.58 326.95,216.60 327.45,216.63 327.95,216.65 328.45,216.67 328.95,216.70 329.45,216.72 329.95,216.74 330.45,216.77 330.95,216.79 331.44,216.81 331.94,216.83 332.44,216.86 332.94,216.88 333.44,216.90 333.94,216.92 334.44,216.95 334.94,216.97 335.44,216.99 335.94,217.01 336.44,217.03 336.94,217.06 337.44,217.08 337.94,217.10 338.44,217.12 338.94,217.14 339.44,217.16 339.94,217.19 340.44,217.21 340.94,217.23 341.44,217.25 341.94,217.27 342.43,217.29 342.93,217.31 343.43,217.33 343.93,217.35 344.43,217.37 344.93,217.39 345.43,217.41 345.93,217.43 346.43,217.45 346.93,217.47 347.43,217.49 347.93,217.51 348.43,217.53 348.93,217.55 349.43,217.57 349.93,217.59 350.43,217.61 350.93,217.62 351.43,217.64 351.93,217.66 352.43,217.68 352.93,217.70 353.43,217.71 353.93,217.73 354.43,217.75 354.93,217.77 355.43,217.78 355.93,217.80 356.43,217.82 356.92,217.83 357.42,217.85 357.92,217.87 358.42,217.88 358.92,217.90 359.42,217.91 359.92,217.93 360.42,217.94 360.92,217.96 361.42,217.97 361.92,217.99 362.42,218.01 362.92,218.02 363.42,218.04 363.92,218.05 364.42,218.07 364.92,218.08 365.42,218.09 365.92,218.11 366.42,218.12 366.92,218.14 367.42,218.15 367.92,218.17 368.42,218.18 368.92,218.19 369.42,218.21 369.92,218.22 370.42,218.24 370.92,218.25 371.42,218.26 371.92,218.28 372.42,218.29 372.92,218.30 373.42,218.31 373.92,218.33 374.42,218.34 374.92,218.35 375.42,218.37 375.92,218.38 376.42,218.39 376.92,218.40 377.42,218.41 377.92,218.43 378.42,218.44 378.92,218.45 379.42,218.46 379.92,218.47 380.42,218.48 380.92,218.49 381.42,218.51 381.92,218.52 382.42,218.53 382.91,218.54 383.41,218.55 383.91,218.56 384.41,218.57 384.91,218.58 385.41,218.59 385.91,218.60 386.00,218.60" fill="none" stroke="#ff0000" stroke-width="1.0" stroke-linejoin="round"/>
<polyline points="71.88,219.50 71.88,36.90 75.81,36.90 75.81,46.50 77.78,46.50 77.78,54.50 79.74,54.50 79.74,72.50 81.71,72.50 81.71,80.50 83.68,80.50 83.68,93.00 85.64,93.00 85.64,101.00 87.61,101.00 87.61,110.50 89.58,110.50 89.58,122.00 91.54,122.00 91.54,128.00 93.51,128.00 93.51,133.50 95.47,133.50 95.47,138.50 97.44,138.50 97.44,143.50 99.41,143.50 99.41,147.42 101.37,147.42 101.37,151.89 103.34,151.89 103.34,158.59 105.31,158.59 105.31,164.38 107.27,164.38 107.27,167.14 109.24,167.14 109.24,170.84 111.20,170.84 111.20,171.92 113.17,171.92 113.17,176.66 115.14,176.66 115.14,181.03 117.10,181.03 117.10,182.87 119.07,182.87 119.07,184.38 121.04,184.38 121.04,183.57 123.00,183.57 123.00,188.48 124.97,188.48 124.97,189.78 126.94,189.78 126.94,188.23 128.90,188.23 128.90,191.48 130.87,191.48 130.87,190.17 132.83,190.17 132.83,191.79 134.80,191.79 134.80,193.79 136.77,193.79 136.77,194.22 138.73,194.22 138.73,197.75 140.70,197.75 140.70,198.93 142.67,198.93 142.66,197.81 144.63,197.81 144.63,198.53 146.60,198.53 146.60,198.42 148.56,198.42 148.56,199.00 150.53,199.00 150.53,201.81 152.50,201.81 152.50,202.19 154.46,202.19 154.46,201.66 156.43,201.66 156.43,203.03 158.39,203.03 158.39,203.38 160.36,203.38 160.36,204.74 162.33,204.74 162.33,204.93 164.29,204.93 164.29,205.13 166.26,205.13 166.26,205.43 168.23,205.43 168.23,206.61 170.19,206.61 170.19,207.06 172.16,207.06 172.16,206.13 174.12,206.13 174.12,206.30 176.09,206.30 176.09,207.79 178.06,207.79 178.06,206.70 180.02,206.70 180.02,207.68 181.99,207.68 181.99,207.47 183.96,207.47 183.96,208.34 185.92,208.34 185.92,208.20 187.89,208.20 187.89,208.98 189.86,208.98 189.86,210.30 191.82,210.30 191.82,210.82 193.79,210.82 193.79,210.86 195.75,210.86 195.75,210.63 197.72,210.63 197.72,210.96 199.69,210.96 199.69,210.67 201.65,210.67 201.65,210.49 203.62,210.49 203.62,211.21 205.59,211.21 205.59,211.99 207.55,211.99 207.55,210.83 209.52,210.83 209.52,210.92 211.48,210.92 211.48,212.59 213.45,212.59 213.45,211.81 215.42,211.81 215.42,212.76 217.38,212.76 217.38,212.98 219.35,212.98 219.35,213.53 221.31,213.53 221.31,212.61 223.28,212.61 223.28,212.66 225.25,212.66 225.25,213.70 227.21,213.70 227.21,213.75 229.18,213.75 229.18,213.49 231.15,213.49 231.15,213.76 233.11,213.76 233.11,213.73 235.08,213.73 235.08,214.13 237.05,214.13 237.04,213.68 239.01,213.68 239.01,214.16 240.98,214.16 240.98,214.46 242.94,214.46 242.94,214.02 244.91,214.02 244.91,214.38 246.88,214.38 246.88,214.26 248.84,214.26 248.84,214.46 250.81,214.46 250.81,214.22 252.78,214.22 252.78,214.27 254.74,214.27 254.74,215.05 256.71,215.05 256.71,214.88 258.67,214.88 258.67,215.14 260.64,215.14 260.64,215.35 262.61,215.35 262.61,215.16 264.57,215.16 264.57,215.21 266.54,215.21 266.54,215.14 268.50,215.14 268.50,215.79 270.47,215.79 270.47,215.92 272.44,215.92 272.44,215.93 274.40,215.93 274.40,216.14 276.37,216.14 276.37,216.02 278.34,216.02 278.34,216.15 280.30,216.15 280.30,215.77 282.27,215.77 282.27,216.37 284.24,216.37 284.24,216.05 286.20,216.05 286.20,216.22 288.17,216.22 288.17,216.19 290.13,216.19 290.13,216.48 292.10,216.48 292.10,216.63 294.07,216.63 294.07,216.63 296.03,216.63 296.03,216.46 298.00,216.46 298.00,216.43 299.96,216.43 299.97,217.06 301.93,217.06 301.93,216.63 303.90,216.63 303.90,216.81 305.86,216.81 305.86,216.55 307.83,216.55 307.83,216.79 309.80,216.79 309.80,216.65 311.76,216.65 311.76,216.93 313.73,216.93 313.73,217.30 315.69,217.30 315.69,217.59 317.66,217.59 317.66,217.32 319.63,217.32 319.63,217.04 321.59,217.04 321.59,217.43 323.56,217.43 323.56,217.44 325.53,217.44 325.53,217.66 327.49,217.66 327.49,217.44 329.46,217.44 329.46,217.81 331.43,217.81 331.43,217.40 333.39,217.40 333.39,217.32 335.36,217.32 335.36,217.56 337.32,217.56 337.32,217.96 339.29,217.96 339.29,217.81 341.26,217.81 341.26,217.63 343.22,217.63 343.22,217.66 345.19,217.66 345.19,217.82 347.16,217.82 347.16,217.67 349.12,217.67 349.12,217.79 351.09,217.79 351.09,218.19 353.05,218.19 353.05,218.18 355.02,218.18 355.02,218.12 356.99,218.12 356.99,217.51 358.95,217.51 358.95,217.92 360.92,217.92 360.92,217.77 362.88,217.77 362.88,218.28 364.85,218.28 364.85,217.77 366.82,217.77 366.82,218.34 368.78,218.34 368.78,217.74 370.75,217.74 370.75,217.92 372.72,217.92 372.72,218.43 374.68,218.43 374.68,218.11 376.65,218.11 376.65,218.43 378.62,218.43 378.62,218.09 380.58,218.09 380.58,217.83 382.55,217.83 382.55,218.28 384.51,218.28 384.51,218.12 386.48,218.12" fill="none" stroke="#0000ff" stroke-width="1.5" stroke-dasharray="2.2 2.75" stroke-dashoffset="-0.4" stroke-linejoin="miter"/>
<polyline points="71.00,219.50 71.00,219.00 71.00,218.50 71.00,218.00 71.01,217.50 71.01,217.00 71.01,216.50 71.01,216.00 71.01,215.50 71.02,215.00 71.02,214.50 71.02,214.00 71.02,213.50 71.02,213.00 71.03,212.50 71.03,212.00 71.03,211.50 71.03,211.00 71.04,210.50 71.04,210.00 71.04,209.50 71.04,209.00 71.05,208.50 71.05,208.00 71.05,207.50 71.06,207.00 71.06,206.50 71.06,206.00 71.06,205.50 71.07,205.00 71.07,204.50 71.07,204.00 71.08,203.50 71.08,203.00 71.08,202.50 71.09,202.00 71.09,201.50 71.09,201.00 71.10,200.50 71.10,200.00 71.10,199.50 71.11,199.00 71.11,198.50 71.11,198.00 71.12,197.50 71.12,197.00 71.13,196.50 71.13,196.00 71.14,195.50 71.14,195.00 71.14,194.50 71.15,194.00 71.15,193.50 71.16,193.00 71.16,192.50 71.17,192.00 71.17,191.50 71.18,191.00 71.18,190.50 71.19,190.00 71.20,189.50 71.20,189.00 71.21,188.50 71.21,188.00 71.22,187.50 71.22,187.00 71.23,186.50 71.24,186.00 71.24,185.50 71.25,185.00 71.25,184.50 71.26,184.00 71.27,183.50 71.27,183.00 71.28,182.50 71.28,182.00 71.29,181.50 71.30,181.00 71.30,180.50 71.31,180.00 71.32,179.50 71.32,179.00 71.33,178.50 71.34,178.00 71.34,177.50 71.35,177.00 71.36,176.50 71.36,176.00 71.37,175.50 71.37,175.00 71.38,174.50 71.39,174.00 71.39,173.50 71.40,173.00 71.41,172.50 71.41,172.00 71.42,171.50 71.43,171.00 71.43,170.50 71.44,170.00 71.45,169.50 71.45,169.00 71.46,168.50 71.46,168.00 71.47,167.50 71.48,167.00 71.48,166.50 71.49,166.00 71.49,165.50 71.50,165.00 71.51,164.50 71.51,164.00 71.52,163.50 71.52,163.00 71.53,162.50 71.53,162.00 71.54,161.50 71.54,161.00 71.55,160.50 71.55,160.00 71.56,159.50 71.56,159.00 71.57,158.50 71.57,158.00 71.58,157.50 71.58,157.00 71.59,156.50 71.59,156.00 71.60,155.50 71.60,155.00 71.61,154.50 71.61,154.00 71.62,153.50 71.62,153.00 71.63,152.50 71.64,152.00 71.64,151.50 71.65,151.00 71.65,150.50 71.66,150.00 71.66,149.50 71.67,149.00 71.67,148.50 71.68,148.00 71.69,147.50 71.69,147.00 71.70,146.50 71.71,146.00 71.71,145.50 71.72,145.00 71.73,144.50 71.73,144.00 71.74,143.50 71.75,143.00 71.76,142.50 71.77,142.00 71.77,141.50 71.78,141.00 71.79,140.50 71.80,140.00 71.81,139.50 71.82,139.00 71.83,138.50 71.84,138.00 71.85,137.51 71.87,137.01 71.88,136.51 71.89,136.01 71.91,135.51 71.92,135.01 71.94,134.51 71.96,134.01 71.97,133.51 71.99,133.01 72.01,132.51 72.02,132.01 72.04,131.51 72.06,131.01 72.07,130.51 72.09,130.01 72.11,129.51 72.13,129.01 72.15,128.51 72.16,128.01 72.18,127.51 72.20,127.01 72.22,126.51 72.23,126.01 72.25,125.51 72.27,125.01 72.29,124.51 72.31,124.01 72.32,123.51 72.34,123.01 72.36,122.51 72.38,122.01 72.40,121.51 72.41,121.01 72.43,120.51 72.45,120.01 72.47,119.51 72.49,119.01 72.51,118.52 72.53,118.02 72.55,117.52 72.57,117.02 72.59,116.52 72.61,116.02 72.63,115.52 72.65,115.02 72.68,114.52 72.70,114.02 72.72,113.52 72.74,113.02 72.77,112.52 72.79,112.02 72.82,111.52 72.84,111.02 72.87,110.52 72.89,110.02 72.92,109.52 72.94,109.03 72.97,108.53 73.00,108.03 73.03,107.53 73.06,107.03 73.09,106.53 73.12,106.03 73.16,105.53 73.19,105.03 73.23,104.54 73.27,104.04 73.31,103.54 73.35,103.04 73.39,102.54 73.43,102.04 73.47,101.54 73.51,101.05 73.55,100.55 73.60,100.05 73.60,100.00 73.60,88.30 74.90,88.30 74.90,84.00 76.00,84.00 76.00,79.20 77.60,79.20 77.60,81.60 79.10,81.60 79.10,85.30 80.60,85.30 80.60,90.30 82.00,90.50 82.00,95.50 83.60,96.00 83.60,100.00 85.20,100.50 86.63,110.78 88.20,110.78 88.20,120.91 89.78,120.91 89.78,126.78 91.35,126.78 91.35,133.57 92.92,133.57 92.92,140.59 94.49,140.59 94.50,145.04 96.07,145.04 96.07,146.60 97.64,146.60 97.64,150.27 99.21,150.27 99.21,152.90 100.79,152.90 100.79,156.96 102.36,156.96 102.36,158.41 103.93,158.41 103.93,162.17 105.51,162.17 105.51,165.02 107.08,165.02 107.08,165.97 108.65,165.97 108.65,168.97 110.22,168.97 110.22,170.30 111.80,170.30 111.80,170.16 113.37,170.16 113.37,173.31 114.94,173.31 114.94,173.92 116.52,173.92 116.52,175.89 118.09,175.89 118.09,177.02 119.66,177.02 119.66,179.88 121.24,179.88 121.24,180.78 122.81,180.78 122.81,181.51 124.38,181.51 124.38,184.07 125.95,184.07 125.96,186.04 127.53,186.04 127.53,185.83 129.10,185.83 129.10,186.72 130.67,186.72 130.67,188.31 132.25,188.31 132.25,190.99 133.82,190.99 133.82,192.08 135.39,192.08 135.39,192.09 136.97,192.09 136.97,193.64 138.54,193.64 138.54,194.28 140.11,194.28 140.11,193.64 141.69,193.64 141.69,193.51 143.26,193.51 143.26,195.88 144.83,195.88 144.83,196.26 146.40,196.26 146.40,196.30 147.98,196.30 147.98,196.51 149.55,196.51 149.55,197.65 151.12,197.65 151.12,198.42 152.70,198.42 152.70,198.40 154.27,198.40 154.27,199.02 155.84,199.02 155.84,200.06 157.41,200.06 157.42,201.78 158.99,201.78 158.99,201.43 160.56,201.43 160.56,201.22 162.13,201.22 162.13,201.60 163.71,201.60 163.71,202.27 165.28,202.27 165.28,202.14 166.85,202.14 166.85,202.43 168.43,202.43 168.43,203.27 170.00,203.27 170.00,202.78 171.57,202.78 171.57,203.77 173.15,203.77 173.14,203.84 174.72,203.84 174.72,204.78 176.29,204.78 176.29,205.17 177.86,205.17 177.86,205.41 179.44,205.41 179.44,205.75 181.01,205.75 181.01,205.53 182.58,205.53 182.58,206.40 184.16,206.40 184.16,206.13 185.73,206.13 185.73,206.85 187.30,206.85 187.30,206.69 188.88,206.69 188.88,207.17 190.45,207.17 190.45,206.75 192.02,206.75 192.02,207.33 193.59,207.33 193.59,208.88 195.17,208.88 195.17,207.78 196.74,207.78 196.74,208.83 198.31,208.83 198.31,208.96 199.89,208.96 199.89,209.28 201.46,209.28 201.46,209.02 203.03,209.02 203.03,209.42 204.61,209.42 204.60,208.63 206.18,208.63 206.18,208.81 207.75,208.81 207.75,209.20 209.32,209.20 209.32,209.27 210.90,209.27 210.90,209.32 212.47,209.32 212.47,209.52 214.04,209.52 214.04,210.43 215.62,210.43 215.62,209.91 217.19,209.91 217.19,211.42 218.76,211.42 218.76,211.07 220.34,211.07 220.34,210.95 221.91,210.95 221.91,211.38 223.48,211.38 223.48,210.71 225.05,210.71 225.05,212.04 226.63,212.04 226.63,212.01 228.20,212.01 228.20,211.92 229.77,211.92 229.77,211.62 231.35,211.62 231.35,212.06 232.92,212.06 232.92,212.09 234.49,212.09 234.49,212.13 236.06,212.13 236.06,212.47 237.64,212.47 237.64,212.33 239.21,212.33 239.21,212.19 240.78,212.19 240.78,212.47 242.36,212.47 242.36,212.26 243.93,212.26 243.93,212.36 245.50,212.36 245.50,212.95 247.08,212.95 247.08,213.11 248.65,213.11 248.65,213.39 250.22,213.39 250.22,213.39 251.80,213.39 251.79,213.22 253.37,213.22 253.37,212.92 254.94,212.92 254.94,213.39 256.51,213.39 256.51,213.90 258.09,213.90 258.09,213.88 259.66,213.88 259.66,213.72 261.23,213.72 261.23,213.80 262.81,213.80 262.81,213.70 264.38,213.70 264.38,213.77 265.95,213.77 265.95,213.78 267.52,213.78 267.52,214.62 269.10,214.62 269.10,214.50 270.67,214.50 270.67,214.16 272.24,214.16 272.24,214.50 273.82,214.50 273.82,214.27 275.39,214.27 275.39,214.51 276.96,214.51 276.96,215.08 278.54,215.08 278.54,215.10 280.11,215.10 280.11,215.03 281.68,215.03 281.68,214.94 283.25,214.94 283.25,215.37 284.83,215.37 284.83,215.73 286.40,215.73 286.40,215.35 287.97,215.35 287.97,215.11 289.55,215.11 289.55,215.19 291.12,215.19 291.12,215.29 292.69,215.29 292.69,216.17 294.27,216.17 294.27,215.87 295.84,215.87 295.84,216.22 297.41,216.22 297.41,215.70 298.99,215.70 298.99,215.86 300.56,215.86 300.56,216.32 302.13,216.32 302.13,216.57 303.70,216.57 303.70,216.14 305.28,216.14 305.28,215.96 306.85,215.96 306.85,216.74 308.42,216.74 308.42,216.28 310.00,216.28 310.00,216.74 311.57,216.74 311.57,216.27 313.14,216.27 313.14,216.81 314.71,216.81 314.72,216.99 316.29,216.99 316.29,216.94 317.86,216.94 317.86,216.65 319.43,216.65 319.43,217.03 321.01,217.03 321.01,216.54 322.58,216.54 322.58,216.75 324.15,216.75 324.15,216.88 325.73,216.88 325.73,217.34 327.30,217.34 327.30,216.72 328.87,216.72 328.87,217.42 330.44,217.42 330.45,217.38 332.02,217.38 332.02,217.57 333.59,217.57 333.59,217.06 335.16,217.06 335.16,216.95 336.74,216.95 336.74,217.02 338.31,217.02 338.31,217.58 339.88,217.58 339.88,217.73 341.46,217.73 341.46,217.52 343.03,217.52 343.03,217.36 344.60,217.36 344.60,217.21 346.17,217.21 346.17,217.74 347.75,217.74 347.75,217.80 349.32,217.80 349.32,217.13 350.89,217.13 350.89,217.27 352.47,217.27 352.47,217.85 354.04,217.85 354.04,217.89 355.61,217.89 355.61,217.44 357.19,217.44 357.19,217.43 358.76,217.43 358.76,217.60 360.33,217.60 360.33,217.72 361.90,217.72 361.90,217.35 363.48,217.35 363.48,218.04 365.05,218.04 365.05,217.79 366.62,217.79 366.62,218.03 368.20,218.03 368.20,217.56 369.77,217.56 369.77,218.25 371.34,218.25 371.34,218.08 372.92,218.08 372.92,217.73 374.49,217.73 374.49,218.29 376.06,218.29 376.06,218.09 377.63,218.09 377.63,218.23 379.21,218.23 379.21,217.53 380.78,217.53 380.78,217.56 382.35,217.56 382.35,218.19 383.93,218.19 383.93,217.81 385.50,217.81" fill="none" stroke="#0000ff" stroke-width="1.15" stroke-linejoin="miter"/>
<polyline points="72.94,109.03 72.97,108.53 73.00,108.03 73.03,107.53 73.06,107.03 73.09,106.53 73.12,106.03 73.16,105.53 73.19,105.03 73.23,104.54 73.27,104.04 73.31,103.54 73.35,103.04 73.39,102.54 73.43,102.04 73.47,101.54 73.51,101.05 73.55,100.55 73.60,100.05 73.60,100.00 73.60,88.30 74.90,88.30 74.90,84.00 76.00,84.00 76.00,79.20 77.60,79.20 77.60,81.60 79.10,81.60 79.10,85.30 80.60,85.30 80.60,90.30 82.00,90.50 82.00,95.50 83.60,96.00 83.60,100.00 85.20,100.50" fill="none" stroke="#0000ff" stroke-width="1.6" stroke-linejoin="miter"/>
</g></g>
<path d="M70.90 219.00v-8.30M70.90 17.00v8.30M110.23 219.00v-8.30M110.23 17.00v8.30M149.55 219.00v-8.30M149.55 17.00v8.30M188.88 219.00v-8.30M188.88 17.00v8.30M228.20 219.00v-8.30M228.20 17.00v8.30M267.52 219.00v-8.30M267.52 17.00v8.30M306.85 219.00v-8.30M306.85 17.00v8.30M346.18 219.00v-8.30M346.18 17.00v8.30M385.50 219.00v-8.30M385.50 17.00v8.30M64.55 219.00h8.30M392.10 219.00h-8.30M64.55 202.84h8.30M392.10 202.84h-8.30M64.55 186.68h8.30M392.10 186.68h-8.30M64.55 170.52h8.30M392.10 170.52h-8.30M64.55 154.36h8.30M392.10 154.36h-8.30M64.55 138.20h8.30M392.10 138.20h-8.30M64.55 122.04h8.30M392.10 122.04h-8.30M64.55 105.88h8.30M392.10 105.88h-8.30M64.55 89.72h8.30M392.10 89.72h-8.30M64.55 73.56h8.30M392.10 73.56h-8.30M64.55 57.40h8.30M392.10 57.40h-8.30M64.55 41.24h8.30M392.10 41.24h-8.30M64.55 25.08h8.30M392.10 25.08h-8.30" stroke="#000" stroke-width="1.05" fill="none"/>
<path d="M78.77 219.00v-4.20M78.77 17.00v4.20M86.63 219.00v-4.20M86.63 17.00v4.20M94.50 219.00v-4.20M94.50 17.00v4.20M102.36 219.00v-4.20M102.36 17.00v4.20M118.09 219.00v-4.20M118.09 17.00v4.20M125.96 219.00v-4.20M125.96 17.00v4.20M133.82 219.00v-4.20M133.82 17.00v4.20M141.69 219.00v-4.20M141.69 17.00v4.20M157.42 219.00v-4.20M157.42 17.00v4.20M165.28 219.00v-4.20M165.28 17.00v4.20M173.15 219.00v-4.20M173.15 17.00v4.20M181.01 219.00v-4.20M181.01 17.00v4.20M196.74 219.00v-4.20M196.74 17.00v4.20M204.61 219.00v-4.20M204.61 17.00v4.20M212.47 219.00v-4.20M212.47 17.00v4.20M220.34 219.00v-4.20M220.34 17.00v4.20M236.06 219.00v-4.20M236.06 17.00v4.20M243.93 219.00v-4.20M243.93 17.00v4.20M251.80 219.00v-4.20M251.80 17.00v4.20M259.66 219.00v-4.20M259.66 17.00v4.20M275.39 219.00v-4.20M275.39 17.00v4.20M283.25 219.00v-4.20M283.25 17.00v4.20M291.12 219.00v-4.20M291.12 17.00v4.20M298.99 219.00v-4.20M298.99 17.00v4.20M314.72 219.00v-4.20M314.72 17.00v4.20M322.58 219.00v-4.20M322.58 17.00v4.20M330.45 219.00v-4.20M330.45 17.00v4.20M338.31 219.00v-4.20M338.31 17.00v4.20M354.04 219.00v-4.20M354.04 17.00v4.20M361.90 219.00v-4.20M361.90 17.00v4.20M369.77 219.00v-4.20M369.77 17.00v4.20M377.63 219.00v-4.20M377.63 17.00v4.20M64.55 215.77h4.20M392.10 215.77h-4.20M64.55 212.54h4.20M392.10 212.54h-4.20M64.55 209.30h4.20M392.10 209.30h-4.20M64.55 206.07h4.20M392.10 206.07h-4.20M64.55 199.61h4.20M392.10 199.61h-4.20M64.55 196.38h4.20M392.10 196.38h-4.20M64.55 193.14h4.20M392.10 193.14h-4.20M64.55 189.91h4.20M392.10 189.91h-4.20M64.55 183.45h4.20M392.10 183.45h-4.20M64.55 180.22h4.20M392.10 180.22h-4.20M64.55 176.98h4.20M392.10 176.98h-4.20M64.55 173.75h4.20M392.10 173.75h-4.20M64.55 167.29h4.20M392.10 167.29h-4.20M64.55 164.06h4.20M392.10 164.06h-4.20M64.55 160.82h4.20M392.10 160.82h-4.20M64.55 157.59h4.20M392.10 157.59h-4.20M64.55 151.13h4.20M392.10 151.13h-4.20M64.55 147.90h4.20M392.10 147.90h-4.20M64.55 144.66h4.20M392.10 144.66h-4.20M64.55 141.43h4.20M392.10 141.43h-4.20M64.55 134.97h4.20M392.10 134.97h-4.20M64.55 131.74h4.20M392.10 131.74h-4.20M64.55 128.50h4.20M392.10 128.50h-4.20M64.55 125.27h4.20M392.10 125.27h-4.20M64.55 118.81h4.20M392.10 118.81h-4.20M64.55 115.58h4.20M392.10 115.58h-4.20M64.55 112.34h4.20M392.10 112.34h-4.20M64.55 109.11h4.20M392.10 109.11h-4.20M64.55 102.65h4.20M392.10 102.65h-4.20M64.55 99.42h4.20M392.10 99.42h-4.20M64.55 96.18h4.20M392.10 96.18h-4.20M64.55 92.95h4.20M392.10 92.95h-4.20M64.55 86.49h4.20M392.10 86.49h-4.20M64.55 83.26h4.20M392.10 83.26h-4.20M64.55 80.02h4.20M392.10 80.02h-4.20M64.55 76.79h4.20M392.10 76.79h-4.20M64.55 70.33h4.20M392.10 70.33h-4.20M64.55 67.10h4.20M392.10 67.10h-4.20M64.55 63.86h4.20M392.10 63.86h-4.20M64.55 60.63h4.20M392.10 60.63h-4.20M64.55 54.17h4.20M392.10 54.17h-4.20M64.55 50.94h4.20M392.10 50.94h-4.20M64.55 47.70h4.20M392.10 47.70h-4.20M64.55 44.47h4.20M392.10 44.47h-4.20M64.55 38.01h4.20M392.10 38.01h-4.20M64.55 34.78h4.20M392.10 34.78h-4.20M64.55 31.54h4.20M392.10 31.54h-4.20M64.55 28.31h4.20M392.10 28.31h-4.20M64.55 21.85h4.20M392.10 21.85h-4.20M64.55 18.62h4.20M392.10 18.62h-4.20" stroke="#000" stroke-width="0.95" fill="none"/>
<rect x="64.55" y="17.00" width="327.55" height="202.00" fill="none" stroke="#000" stroke-width="1.25"/>
<text transform="translate(47.30 221.60) scale(0.950 1)" font-size="14.0">0.</text>
<text transform="translate(47.30 205.44) scale(0.950 1)" font-size="14.0">2.</text>
<text transform="translate(47.30 189.28) scale(0.950 1)" font-size="14.0">4.</text>
<text transform="translate(47.30 173.12) scale(0.950 1)" font-size="14.0">6.</text>
<text transform="translate(47.30 156.96) scale(0.950 1)" font-size="14.0">8.</text>
<text transform="translate(40.66 140.80) scale(0.950 1)" font-size="14.0">10.</text>
<text transform="translate(40.66 124.64) scale(0.950 1)" font-size="14.0">12.</text>
<text transform="translate(40.66 108.48) scale(0.950 1)" font-size="14.0">14.</text>
<text transform="translate(40.66 92.32) scale(0.950 1)" font-size="14.0">16.</text>
<text transform="translate(40.66 76.16) scale(0.950 1)" font-size="14.0">18.</text>
<text transform="translate(40.66 60.00) scale(0.950 1)" font-size="14.0">20.</text>
<text transform="translate(40.66 43.84) scale(0.950 1)" font-size="14.0">22.</text>
<text transform="translate(40.66 27.68) scale(0.950 1)" font-size="14.0">24.</text>
<text transform="translate(64.41 234.50) scale(0.950 1)" font-size="14.0">0.</text>
<text transform="translate(100.01 234.50) scale(0.950 1)" font-size="14.0">0.05</text>
<text transform="translate(139.64 234.50) scale(0.950 1)" font-size="14.0">0.1</text>
<text transform="translate(178.71 234.50) scale(0.950 1)" font-size="14.0">0.15</text>
<text transform="translate(218.49 234.50) scale(0.950 1)" font-size="14.0">0.2</text>
<text transform="translate(257.36 234.50) scale(0.950 1)" font-size="14.0">0.25</text>
<text transform="translate(297.19 234.50) scale(0.950 1)" font-size="14.0">0.3</text>
<text transform="translate(336.06 234.50) scale(0.950 1)" font-size="14.0">0.35</text>
<text transform="translate(375.59 234.50) scale(0.950 1)" font-size="14.0">0.4</text>
<g style="stroke-width:0.16px">
<path d="M78.4 32.6l1.2 -0.7l2.5 5.4l4.4 -10.9h6.2" fill="none" stroke="#000" stroke-width="0.65" stroke-linejoin="miter"/>
<path d="M79.4 32.1l2.5 5.2" fill="none" stroke="#000" stroke-width="1.1"/>
<text transform="translate(87.32 35.50) scale(1.138 1)" font-size="11.4" font-style="italic">s</text>
<path d="M96.30 31.95H103.70" stroke="#000" stroke-width="0.60"/>
<path d="M96.30 34.25H103.70" stroke="#000" stroke-width="0.60"/>
<text transform="translate(109.02 35.50) scale(1.005 1)" font-size="11.4">13</text>
<text transform="translate(124.62 35.50) scale(0.970 1)" font-size="11.4">TeV</text>
<text transform="translate(199.54 35.50) scale(0.902 1)" font-size="11.4" font-style="italic">p</text>
<text transform="translate(205.12 37.40) scale(1.212 1)" font-size="8.2" font-style="italic">T</text>
<path d="M215.60 31.85H222.60" stroke="#000" stroke-width="0.60"/>
<path d="M215.60 34.15H222.60" stroke="#000" stroke-width="0.60"/>
<text transform="translate(227.42 35.50) scale(0.985 1)" font-size="11.4">300-450</text>
<text transform="translate(270.42 35.50) scale(0.920 1)" font-size="11.4" letter-spacing="-0.306">GeV</text>
<text transform="translate(291.92 35.50) scale(0.618 1)" font-size="11.4">,</text>
<text transform="translate(300.64 35.50) scale(1.055 1)" font-size="11.4" font-style="italic">R</text>
<path d="M312.80 31.85H319.80" stroke="#000" stroke-width="0.60"/>
<path d="M312.80 34.15H319.80" stroke="#000" stroke-width="0.60"/>
<text transform="translate(324.32 35.50) scale(0.952 1)" font-size="11.4">0.8</text>
<text transform="translate(339.32 35.50) scale(0.618 1)" font-size="11.4">,</text>
<path d="M347.6 27.2v11M357.6 27.2v11" stroke="#000" stroke-width="0.6"/>
<text transform="translate(349.72 35.50) scale(1.021 1)" font-size="11.4" font-style="italic">η</text>
<path d="M370.0 29.9l-6.6 3.0l6.6 3.0" fill="none" stroke="#000" stroke-width="0.7"/>
<text transform="translate(374.42 35.50) scale(0.993 1)" font-size="11.4">2</text>
</g>
<rect x="247.6" y="77.6" width="24.5" height="12.0" fill="#ff8000"/>
<path d="M247.60 83.60H272.10" stroke="#ff0000" stroke-width="1.10"/>
<text transform="translate(277.72 87.00) scale(1.034 1)" font-size="13.9">NLL</text>
<path d="M309.4 77.3q1.1 0.2 1.0 1.0l-2.6 4.3l-0.6 -0.3z" fill="#000"/>
<text transform="translate(247.02 114.60) scale(1.140 1)" font-size="13.9" letter-spacing="0.522">Pythia</text>
<text transform="translate(295.12 114.60) scale(1.089 1)" font-size="13.9">8.2:</text>
<path d="M247.6 131.2h23" stroke="#0000ff" stroke-width="1.2" stroke-dasharray="2.8 2.2"/>
<text transform="translate(279.42 135.00) scale(1.140 1)" font-size="13.9" letter-spacing="0.265">Partonic</text>
<path d="M247.6 148.4h24" stroke="#0000ff" stroke-width="1.3"/>
<text transform="translate(279.52 152.30) scale(1.140 1)" font-size="13.9" letter-spacing="0.237">ISR</text>
<path d="M305.40 148.60h9.80M310.30 143.70v9.80" stroke="#000" stroke-width="0.85"/>
<text transform="translate(316.32 152.30) scale(0.989 1)" font-size="13.9">MPI</text>
<path d="M342.10 148.60h9.80M347.00 143.70v9.80" stroke="#000" stroke-width="0.85"/>
<text transform="translate(354.02 152.30) scale(1.140 1)" font-size="13.9" letter-spacing="1.080">had</text>
<text transform="translate(224.62 261.20) scale(1.066 1)" font-size="13.9" font-style="italic">θ</text>
<g transform="rotate(-90)">
<g style="stroke-width:0.3px">
<text transform="translate(-130.28 11.30) scale(0.699 1)" font-size="13.9">1</text>
</g>
<text transform="translate(-119.38 11.30) scale(0.901 1)" font-size="13.9">d</text>
<text transform="translate(-112.38 11.30) scale(1.063 1)" font-size="13.9" font-style="italic">σ</text>
<path d="M-132.30 18.50H-123.20" stroke="#000" stroke-width="0.70"/>
<path d="M-120.40 18.50H-103.20" stroke="#000" stroke-width="0.70"/>
<text transform="translate(-131.78 32.00) scale(0.981 1)" font-size="13.9" font-style="italic">σ</text>
<text transform="translate(-119.38 32.00) scale(0.829 1)" font-size="13.9">d</text>
<text transform="translate(-112.38 32.00) scale(1.139 1)" font-size="13.9" font-style="italic">θ</text>
</g>
</svg>
</body></html>
